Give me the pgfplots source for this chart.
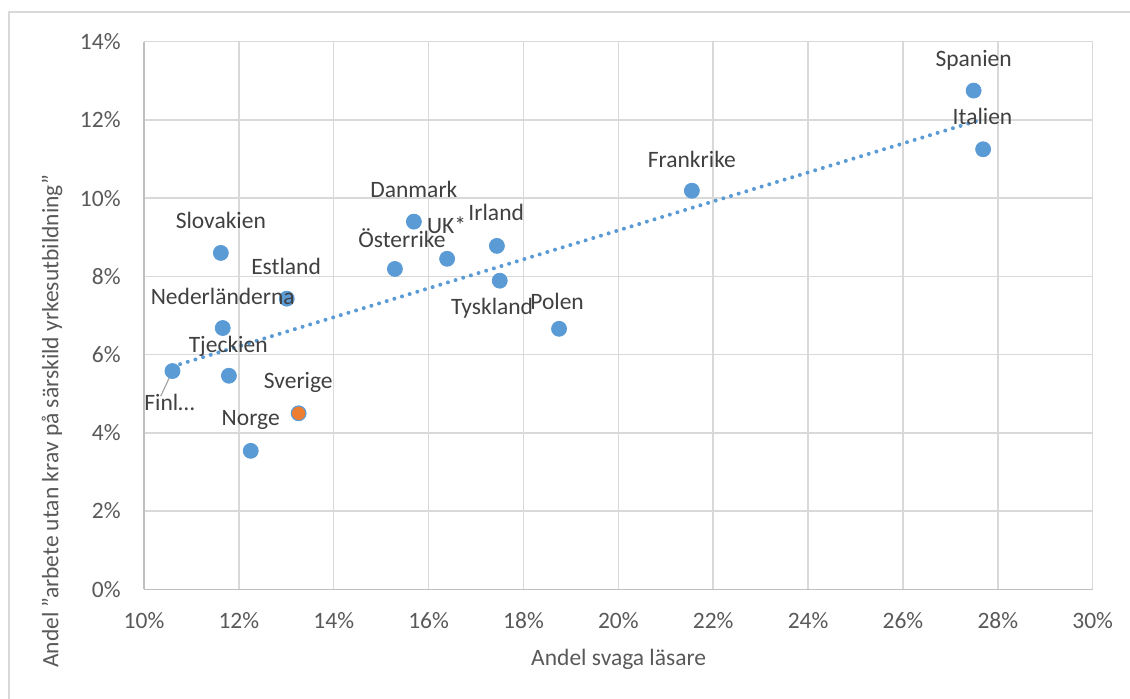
\documentclass[border=0pt]{standalone}
\usepackage{fontspec}
\setmainfont{Carlito}
\usepackage{pgfplots}
\usepackage{pgfplotstable}
\pgfplotsset{compat=1.18}
\definecolor{ptblue}{HTML}{5B9BD5}
\definecolor{ptorange}{HTML}{ED7D31}
\definecolor{gridgray}{HTML}{D9D9D9}
\definecolor{axisgray}{HTML}{BFBFBF}
\definecolor{ticktext}{HTML}{595959}
\definecolor{labeltext}{HTML}{404040}
\definecolor{leadergray}{HTML}{A6A6A6}
\newcommand\fs{\fontsize{11.75}{14}\selectfont}

\pgfplotstableread{
x y dx dy label
10.60 5.58 -3 -32.3 Finl…
11.62 8.60 0 32 Slovakien
11.66 6.68 0 31.3 Nederländerna
11.79 5.46 -0.7 30.7 Tjeckien
12.25 3.54 0 32.7 Norge
13.01 7.43 -0.7 32 Estland
13.26 4.50 -0.4 32.6 Sverige
15.29 8.19 7 28.5 Österrike
15.69 9.40 0 31.7 Danmark
16.39 8.45 -0.6 32.3 UK*
17.44 8.78 -0.7 32.7 Irland
17.50 7.89 -7.7 -26.4 Tyskland
18.75 6.66 -2 27.3 Polen
21.55 10.19 0 31 Frankrike
27.49 12.75 0 31.4 Spanien
27.69 11.25 -0.6 32 Italien
}\datatable

\begin{document}
\begin{tikzpicture}
\useasboundingbox (0,0) rectangle (565pt,349pt);
\draw[gridgray, line width=0.75pt] (4.5pt,-2pt) -- (4.5pt,343pt) -- (567pt,343pt);
\begin{axis}[
  at={(72pt,54.35pt)}, anchor=south west,
  scale only axis, width=474.35pt, height=273.8pt,
  xmin=10, xmax=30, ymin=0, ymax=14,
  xtick={10,12,...,30}, ytick={0,2,...,14},
  grid=major, major grid style={gridgray, line width=0.75pt},
  axis x line*=bottom, axis y line*=left,
  axis line style={axisgray, line width=0.75pt},
  major tick length=0pt,
  tick label style={font=\fs, text=ticktext, inner sep=0pt},
  xticklabel={\pgfmathprintnumber[assume math mode=true]{\tick}\%},
  yticklabel={\pgfmathprintnumber[assume math mode=true]{\tick}\%},
  xticklabel style={anchor=base, yshift=-19.6pt},
  yticklabel style={anchor=east, xshift=-11.5pt},
  clip=false,
]
\addplot[ptblue, line width=2pt, dash pattern=on 0pt off 4pt, line cap=round, no marks]
  table[x=x, y={create col/linear regression={y=y}}]{\datatable};
\addplot[only marks, mark=*, mark size=3.75pt, mark options={fill=ptblue, draw=ptblue}]
  table[x=x, y=y]{\datatable};
\addplot[only marks, mark=*, mark size=3.1pt, mark options={fill=ptorange, draw=ptorange}]
  coordinates {(13.26,4.50)};
\draw[leadergray, line width=0.6pt] (axis cs:10.60,5.58) -- ++(-5.85pt,-12.5pt);
\addplot[only marks, mark=*, mark size=0pt, mark options={draw=none, fill=none},
  point meta=explicit symbolic,
  nodes near coords,
  visualization depends on={\thisrow{dx}\as\ldx},
  visualization depends on={\thisrow{dy}\as\ldy},
  every node near coord/.style={anchor=base, inner sep=0pt, font=\fs, text=labeltext,
    xshift={(\ldx)*0.5pt}, yshift={(\ldy-7.5)*0.5pt}}]
  table[x=x, y=y, meta=label]{\datatable};
\end{axis}
\node[font=\fs, text=ticktext, anchor=base] at (309.35pt,16.5pt) {Andel svaga läsare};
\node[font=\fs, text=ticktext, rotate=90, anchor=base] at (29.15pt,138.5pt) {Andel \char34 arbete utan krav på särskild yrkesutbildning\char34};
\end{tikzpicture}
\end{document}
